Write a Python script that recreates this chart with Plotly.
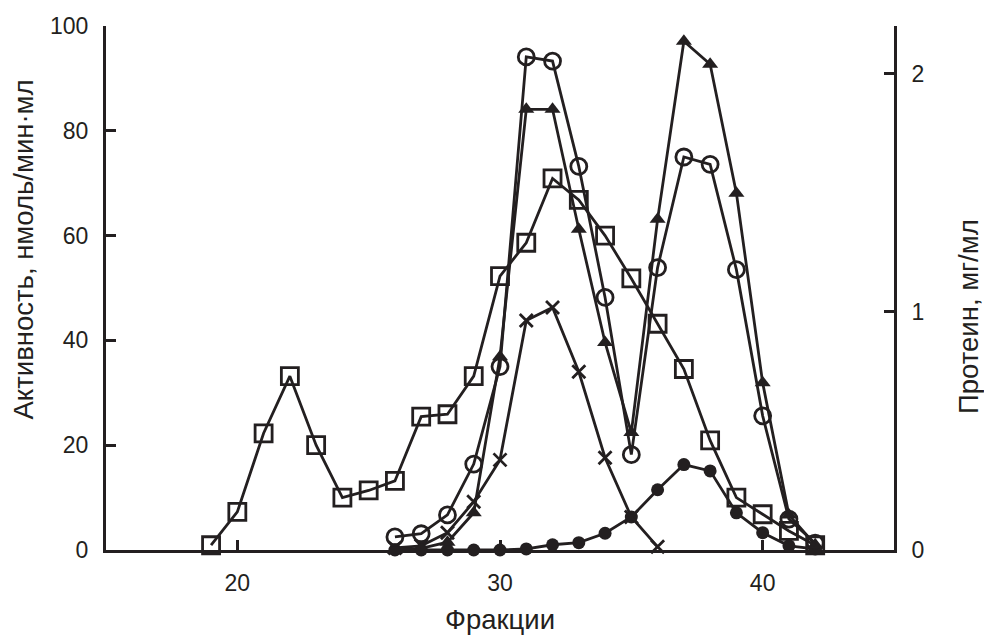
import plotly.graph_objects as go

fractions_sq = [19, 20, 21, 22, 23, 24, 25, 26, 27, 28, 29, 30, 31, 32, 33, 34, 35, 36, 37, 38, 39, 40, 41, 42]
protein_sq = [0.02, 0.16, 0.49, 0.73, 0.44, 0.22, 0.25, 0.29, 0.56, 0.57, 0.73, 1.15, 1.29, 1.56,
              1.47, 1.32, 1.14, 0.95, 0.76, 0.46, 0.22, 0.15, 0.08, 0.02]

fractions_b = [26, 27, 28, 29, 30, 31, 32, 33, 34, 35, 36, 37, 38, 39, 40, 41, 42]
open_circle = [2.5, 3.1, 6.7, 16.4, 35.0, 94.1, 93.3, 73.2, 48.2, 18.2, 53.9, 75.0, 73.6, 53.5, 25.6, 5.9, 1.3]
triangle = [0.0, 0.3, 1.5, 7.1, 36.9, 84.1, 84.1, 61.2, 39.6, 22.4, 63.1, 97.1, 92.7, 68.1, 31.9, 6.7, 1.0]
filled_circle = [0.0, 0.0, 0.0, 0.0, 0.0, 0.2, 1.0, 1.4, 3.2, 6.3, 11.5, 16.3, 15.1, 7.1, 3.3, 0.8, 0.2]

fractions_x = [26, 27, 28, 29, 30, 31, 32, 33, 34, 35, 36]
cross = [0.4, 0.8, 3.3, 9.2, 17.2, 43.8, 46.3, 34.0, 17.6, 6.3, 0.6]

x_ticks = [20, 30, 40]
y_ticks = [0, 20, 40, 60, 80, 100]
y2_ticks = [0, 1, 2]

INK = "#231f20"
FONT = "Arial, Liberation Sans, sans-serif"

fig = go.Figure()

line = dict(color=INK, width=2.8)

fig.add_trace(go.Scatter(x=fractions_b, y=filled_circle, mode="lines+markers", line=line,
                         marker=dict(symbol="circle", size=13, color=INK), cliponaxis=False))
fig.add_trace(go.Scatter(x=fractions_x, y=cross, mode="lines+markers", line=line,
                         marker=dict(symbol="x-thin-open", size=13, color=INK, line=dict(width=2.8, color=INK)),
                         cliponaxis=False))
fig.add_trace(go.Scatter(x=fractions_b, y=triangle, mode="lines+markers", line=line,
                         marker=dict(symbol="triangle-up", size=14, color=INK), cliponaxis=False))
fig.add_trace(go.Scatter(x=fractions_b, y=open_circle, mode="lines+markers", line=line,
                         marker=dict(symbol="circle-open", size=16, color=INK, line=dict(width=2.8, color=INK)),
                         cliponaxis=False))
fig.add_trace(go.Scatter(x=fractions_sq, y=protein_sq, yaxis="y2", mode="lines+markers", line=line,
                         marker=dict(symbol="square-open", size=17, color=INK, line=dict(width=2.8, color=INK)),
                         cliponaxis=False))

axis_common = dict(showline=True, linecolor=INK, linewidth=3, ticks="inside", ticklen=10,
                   tickwidth=2.8, tickcolor=INK, showgrid=False, zeroline=False, automargin=False,
                   tickfont=dict(family=FONT, size=23, color=INK))

fig.update_layout(
    width=984, height=635,
    margin=dict(l=106, r=90, t=26, b=85),
    paper_bgcolor="white", plot_bgcolor="white",
    showlegend=False,
    xaxis=dict(range=[15, 45], tickvals=x_ticks, ticklabelstandoff=10, **axis_common,
               title=dict(text="Фракции", font=dict(family=FONT, size=27.5, color=INK), standoff=20)),
    yaxis=dict(range=[0, 100], tickvals=y_ticks, ticklabelstandoff=10, **axis_common),
    yaxis2=dict(range=[0, 2.2], tickvals=y2_ticks, overlaying="y", side="right",
                ticklabelstandoff=10, **axis_common),
    annotations=[
        dict(text="Активность, нмоль/мин·мл", xref="paper", yref="paper",
             x=(22.5 - 106) / 788, y=(550 - 250) / 524, textangle=-90, showarrow=False,
             xanchor="center", yanchor="middle", font=dict(family=FONT, size=27.5, color=INK)),
        dict(text="Протеин, мг/мл", xref="paper", yref="paper",
             x=(968 - 106) / 788, y=(550 - 316) / 524, textangle=-90, showarrow=False,
             xanchor="center", yanchor="middle", font=dict(family=FONT, size=27.5, color=INK)),
    ],
)

fig.write_html("out.html", config={"displayModeBar": False},
               post_script="document.body.style.margin='0';document.body.style.overflow='hidden';")
